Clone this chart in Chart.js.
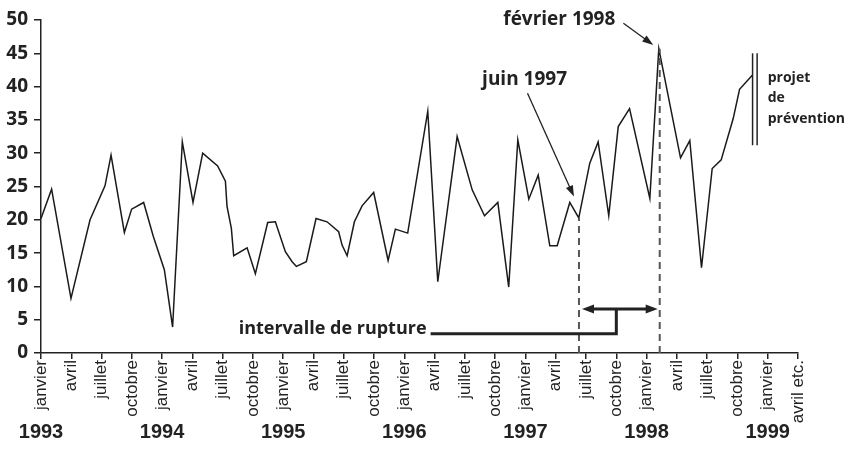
<!DOCTYPE html>
<html><head><meta charset="utf-8">
<script src="https://cdn.jsdelivr.net/npm/chart.js@4.4.1/dist/chart.umd.min.js"></script>
<style>html,body{margin:0;padding:0;background:#fff}#wrap{width:850px;height:464px}</style>
</head><body><div id="wrap"><canvas id="c" width="850" height="464"></canvas></div>
<script>
// month index: 0 = janvier 1993
const months = [0, 1.05, 2.97, 4.86, 6.34, 6.94, 8.26, 8.98, 10.17, 11.13,
  12.22, 13.04, 14.0, 15.06, 16.02, 17.5, 18.27, 18.43, 18.86, 19.09,
  20.42, 21.24, 22.46, 23.22, 24.21, 24.88, 25.3, 26.29, 27.25, 28.34,
  29.49, 29.83, 30.33, 31.05, 31.81, 32.96, 34.39, 35.11, 36.33, 38.32,
  39.31, 41.23, 42.72, 43.94, 45.26, 46.34, 47.24, 48.33, 49.26, 50.41,
  51.14, 52.39, 53.28, 54.37, 55.20, 56.25, 57.19, 58.31, 60.32, 61.21,
  63.36, 64.28, 65.44, 66.5, 67.39, 68.58, 69.21, 70.47];
const values = [20.2, 24.6, 8.2, 20.0, 25.1, 29.7, 18.1, 21.6, 22.6, 17.5,
  12.5, 3.9, 31.7, 22.6, 30.0, 28.1, 25.8, 22.0, 18.7, 14.6,
  15.8, 11.9, 19.6, 19.7, 15.2, 13.7, 13.0, 13.7, 20.2, 19.7,
  18.2, 16.2, 14.6, 19.7, 22.1, 24.1, 13.9, 18.6, 18.0, 36.3,
  10.7, 32.5, 24.5, 20.6, 22.6, 9.9, 32.0, 23.1, 26.7, 16.1,
  16.1, 22.6, 20.3, 28.5, 31.7, 20.6, 34.0, 36.7, 23.2, 45.7,
  29.3, 31.9, 12.8, 27.7, 29.0, 35.2, 39.6, 41.7];
const tickMonths = [0,3,6,9,12,15,18,21,24,27,30,33,36,39,42,45,48,51,54,57,60,63,66,69,72,75];
const tickLabels = ['janvier','avril','juillet','octobre','janvier','avril','juillet','octobre',
  'janvier','avril','juillet','octobre','janvier','avril','juillet','octobre',
  'janvier','avril','juillet','octobre','janvier','avril','juillet','octobre',
  'janvier','avril etc.'];
const yTicks = [0,5,10,15,20,25,30,35,40,45,50];
const yearLabels = ['1993','1994','1995','1996','1997','1998','1999'];
const yearMonths = [0,12,24,36,48,60,72];

const INK = '#222';
const TXT = "'Open Sans', 'Noto Sans', sans-serif";

const annot = {
  juinLine: {x: 53.3, y: 20.3},
  fevLine: {x: 61.3, y: 45.7},
  juinText: {x: 43.7, y: 40.2, text: 'juin 1997'},
  juinArrow: {x1: 48.2, y1: 39.0, x2: 52.8, y2: 23.5},
  fevText: {x: 45.8, y: 49.2, text: 'février 1998'},
  fevArrow: {x1: 57.7, y1: 49.5, x2: 60.66, y2: 46.25},
  rupText: {x: 38.2, y: 2.9, text: 'intervalle de rupture'},
  bracket: {x1: 38.6, xm: 57.0, yLow: 2.9, yHigh: 6.6, a1: 53.6, a2: 61.1},
  bars: {x1: 70.5, x2: 70.95, yTop: 45.0, yBot: 31.2},
  projet: {x: 72.0, lines: ['projet','de','prévention'], ys: [40.7, 37.7, 34.5]}
};

function arrowHead(ctx, x1, y1, x2, y2, len, w) {
  const a = Math.atan2(y2 - y1, x2 - x1);
  ctx.beginPath();
  ctx.moveTo(x2, y2);
  ctx.lineTo(x2 - len*Math.cos(a) + w*Math.sin(a), y2 - len*Math.sin(a) - w*Math.cos(a));
  ctx.lineTo(x2 - len*Math.cos(a) - w*Math.sin(a), y2 - len*Math.sin(a) + w*Math.cos(a));
  ctx.closePath();
  ctx.fill();
}

const annotPlugin = {
  id: 'annot',
  afterDraw(chart) {
    const ctx = chart.ctx, xs = chart.scales.x, ys = chart.scales.y;
    const X = v => xs.getPixelForValue(v), Y = v => ys.getPixelForValue(v);
    ctx.save();
    // dashed lines
    ctx.strokeStyle = '#555'; ctx.lineWidth = 2; ctx.setLineDash([7,5]);
    [annot.juinLine, annot.fevLine].forEach(d => {
      ctx.beginPath(); ctx.moveTo(X(d.x), Y(0)); ctx.lineTo(X(d.x), Y(d.y)); ctx.stroke();
    });
    ctx.setLineDash([]);
    // bracket
    const b = annot.bracket;
    ctx.strokeStyle = INK; ctx.fillStyle = INK; ctx.lineWidth = 3;
    ctx.beginPath();
    ctx.moveTo(X(b.x1), Y(b.yLow)); ctx.lineTo(X(b.xm), Y(b.yLow)); ctx.lineTo(X(b.xm), Y(b.yHigh));
    ctx.stroke();
    ctx.beginPath(); ctx.moveTo(X(b.a1)+8, Y(b.yHigh)); ctx.lineTo(X(b.a2)-8, Y(b.yHigh)); ctx.stroke();
    arrowHead(ctx, X(b.a2), Y(b.yHigh), X(b.a1), Y(b.yHigh), 12, 4.5);
    arrowHead(ctx, X(b.a1), Y(b.yHigh), X(b.a2), Y(b.yHigh), 12, 4.5);
    // thin arrows
    ctx.lineWidth = 1.3;
    [annot.juinArrow, annot.fevArrow].forEach(a => {
      const x1 = X(a.x1), y1 = Y(a.y1), x2 = X(a.x2), y2 = Y(a.y2);
      const ang = Math.atan2(y2-y1, x2-x1);
      ctx.beginPath(); ctx.moveTo(x1, y1); ctx.lineTo(x2 - 8*Math.cos(ang), y2 - 8*Math.sin(ang)); ctx.stroke();
      arrowHead(ctx, x1, y1, x2, y2, 11, 3.8);
    });
    // double bar
    const br = annot.bars;
    ctx.lineWidth = 1.5;
    [br.x1, br.x2].forEach(x => {
      ctx.beginPath(); ctx.moveTo(X(x), Y(br.yTop)); ctx.lineTo(X(x), Y(br.yBot)); ctx.stroke();
    });
    // texts
    ctx.fillStyle = INK; ctx.textBaseline = 'alphabetic';
    ctx.font = "bold 19px " + TXT;
    ctx.textAlign = 'left';
    ctx.fillText(annot.juinText.text, X(annot.juinText.x), Y(annot.juinText.y));
    ctx.fillText(annot.fevText.text, X(annot.fevText.x), Y(annot.fevText.y));
    ctx.font = "bold 18px " + TXT;
    ctx.textAlign = 'right';
    ctx.fillText(annot.rupText.text, X(annot.rupText.x), Y(annot.rupText.y));
    ctx.textAlign = 'left';
    ctx.font = "bold 14px " + TXT;
    annot.projet.lines.forEach((t, i) => ctx.fillText(t, X(annot.projet.x), Y(annot.projet.ys[i])));
    // year labels
    ctx.font = "bold 20px 'Liberation Sans Narrow', 'Liberation Sans', sans-serif";
    ctx.textAlign = 'center'; ctx.textBaseline = 'middle';
    yearLabels.forEach((t, i) => ctx.fillText(t, X(yearMonths[i]), xs.top + 79));
    ctx.restore();
  }
};

new Chart(document.getElementById('c'), {
  type: 'line',
  data: {
    datasets: [{
      data: months.map((m, i) => ({x: m, y: values[i]})),
      borderColor: '#1a1a1a', borderWidth: 1.5, pointRadius: 0, tension: 0, fill: false
    }]
  },
  options: {
    responsive: false, animation: false, devicePixelRatio: 1,
    layout: {padding: {left: 0, right: 52, top: 20, bottom: 0}},
    plugins: {legend: {display: false}, tooltip: {enabled: false}},
    scales: {
      x: {
        type: 'linear', min: 0, max: 75,
        afterBuildTicks: s => { s.ticks = tickMonths.map(v => ({value: v})); },
        afterFit: s => { s.height = 111; },
        ticks: {autoSkip: false, minRotation: 90, maxRotation: 90, padding: 1, color: INK,
          font: {family: "'Liberation Sans', Arial, sans-serif", size: 17},
          callback: (v, i) => tickLabels[i]},
        grid: {display: true, drawOnChartArea: false, drawTicks: true, tickLength: 6, color: INK, lineWidth: 1.5},
        border: {display: true, color: INK, width: 1.5}
      },
      y: {
        min: 0, max: 50,
        afterBuildTicks: s => { s.ticks = yTicks.map(v => ({value: v})); },
        afterFit: s => { s.width = 41; },
        ticks: {padding: 6, color: INK, font: {family: TXT, size: 19, weight: '700'}},
        grid: {display: true, drawOnChartArea: false, drawTicks: true, tickLength: 7, color: INK, lineWidth: 1.5},
        border: {display: true, color: INK, width: 1.5}
      }
    }
  },
  plugins: [annotPlugin]
});
</script>
</body></html>
